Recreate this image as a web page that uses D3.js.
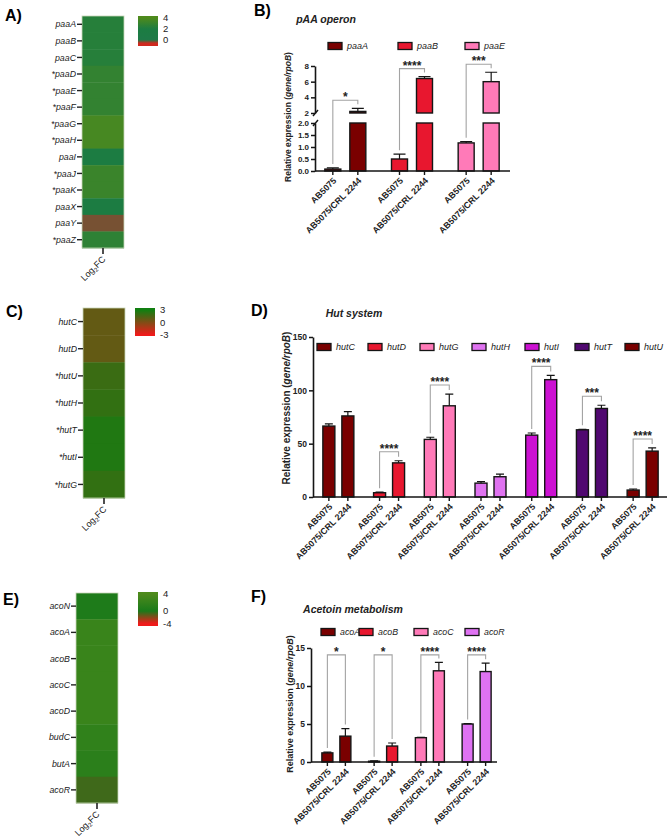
<!DOCTYPE html>
<html>
<head>
<meta charset="utf-8">
<script src="https://cdn.jsdelivr.net/npm/d3@7"></script>
<style>
  body { margin: 0; background: #fff; }
  svg { font-family: "Liberation Sans", Arial, sans-serif; }
</style>
</head>
<body>
<svg id="fig" width="669" height="840"></svg>
<script>
// heatmap rows (log2 fold change)
const paaRows = ["paaA", "paaB", "paaC", "*paaD", "*paaE", "*paaF", "*paaG", "*paaH", "paaI", "*paaJ", "*paaK", "paaX", "paaY", "*paaZ"];
const paaFC = [2.4, 2.4, 2.4, 2.9, 2.9, 2.9, 3.7, 3.7, 2.0, 3.2, 3.2, 1.9, -0.3, 2.7];
const hutRows = ["hutC", "hutD", "*hutU", "*hutH", "*hutT", "*hutI", "*hutG"];
const hutFC = [0.8, 0.8, 1.9, 2.1, 2.6, 2.6, 2.1];
const acoRows = ["acoN", "acoA", "acoB", "acoC", "acoD", "budC", "butA", "acoR"];
const acoFC = [0.3, 2.4, 2.4, 2.4, 2.4, 1.7, 1.3, -0.7];

// qPCR bars: [AB5075, AB5075/CRL 2244]
const strains = ["AB5075", "AB5075/CRL 2244"];
const paaGenes = ["paaA", "paaB", "paaE"];
const paaMean = [[0.08, 2.2], [0.5, 6.4], [1.17, 6.0]];
const paaSD = [[0.05, 0.4], [0.2, 0.25], [0.05, 1.2]];
const paaSig = ["*", "****", "***"];

const hutGenes = ["hutC", "hutD", "hutG", "hutH", "hutI", "hutT", "hutU"];
const hutMean = [[66.5, 76], [4, 32], [54, 85.5], [13, 19], [58, 110], [63, 83], [6.5, 43]];
const hutSD = [[2, 4], [0.5, 2], [2, 11], [1.5, 2.5], [2, 4], [0.5, 3], [1, 3]];
const hutSig = ["", "****", "****", "", "****", "***", "****"];

const acoGenes = ["acoA", "acoB", "acoC", "acoR"];
const acoMean = [[1.2, 3.4], [0.1, 2.1], [3.2, 12.0], [5.0, 11.9]];
const acoSD = [[0.1, 1.0], [0.05, 0.4], [0.05, 1.1], [0.05, 1.1]];
const acoSig = ["*", "*", "****", "****"];

// farben pro gen
const geneColor = {
  paaA: "#7a0000", paaB: "#e8172f", paaE: "#ff7ab8",
  hutC: "#7a0000", hutD: "#e8172f", hutG: "#ff7ab8", hutH: "#df72f0",
  hutI: "#cc12d2", hutT: "#500870", hutU: "#7a0000",
  acoA: "#7a0000", acoB: "#e8172f", acoC: "#ff7ab8", acoR: "#df72f2"
};

const svg = d3.select("#fig");

// Panel-Buchstaben
const letters = [["A)", 5, 21], ["B)", 254, 16], ["C)", 6, 317], ["D)", 251, 316], ["E)", 3, 605], ["F)", 251, 602]];
svg.selectAll("text.letter").data(letters).join("text")
  .attr("class", "letter")
  .attr("x", d => d[1]).attr("y", d => d[2])
  .attr("font-size", 16).attr("font-weight", "bold")
  .text(d => d[0]);

function heatmap(o) {
  const g = svg.append("g");
  const yb = d3.scaleBand().domain(o.rows).range([o.y, o.y + o.h]);
  g.selectAll("rect.cell").data(o.rows).join("rect")
    .attr("x", o.x).attr("y", d => yb(d))
    .attr("width", o.w).attr("height", yb.bandwidth() + 0.4)
    .attr("fill", (d, i) => o.color(o.vals[i]));
  g.append("rect").attr("x", o.x).attr("y", o.y).attr("width", o.w).attr("height", o.h)
    .attr("fill", "none").attr("stroke", "#c9d6b8").attr("stroke-width", 0.8);

  const mid = d => yb(d) + yb.bandwidth() / 2;
  g.selectAll("line.tk").data(o.rows).join("line")
    .attr("x1", o.x - 5).attr("x2", o.x).attr("y1", mid).attr("y2", mid)
    .attr("stroke", "#222").attr("stroke-width", 1.4);
  g.selectAll("text.lab").data(o.rows).join("text")
    .attr("x", o.x - 6).attr("y", mid).attr("dy", "0.35em")
    .attr("text-anchor", "end").attr("font-style", "italic").attr("font-size", 8.8)
    .attr("fill", "#222").text(d => d);

  // Log2FC unten
  const cx = o.x + o.w / 2;
  g.append("line").attr("x1", cx).attr("x2", cx).attr("y1", o.y + o.h).attr("y2", o.y + o.h + 6)
    .attr("stroke", "#222").attr("stroke-width", 1.6);
  const t = g.append("text")
    .attr("transform", `translate(${cx + 3},${o.y + o.h + 12}) rotate(-45)`)
    .attr("text-anchor", "end").attr("font-size", 9).attr("fill", "#222");
  t.append("tspan").text("Log");
  t.append("tspan").attr("font-size", 6).attr("dy", 2).text("2");
  t.append("tspan").attr("dy", -2).text("FC");

  // Legende mit Farbverlauf
  const L = o.legend;
  const ly = d3.scaleLinear().domain(L.domain).range(L.range);
  const y0 = L.range[0], y1 = L.range[L.range.length - 1];
  const grad = svg.append("defs").append("linearGradient")
    .attr("id", o.id).attr("x1", 0).attr("y1", 0).attr("x2", 0).attr("y2", 1);
  d3.range(0, 1.0001, 0.04).forEach(f => {
    grad.append("stop").attr("offset", f).attr("stop-color", o.color(ly.invert(y0 + f * (y1 - y0))));
  });
  g.append("rect").attr("x", L.x).attr("y", y0).attr("width", 20).attr("height", y1 - y0)
    .attr("fill", `url(#${o.id})`);
  g.selectAll("text.leg").data(L.ticks).join("text")
    .attr("x", L.x + 25).attr("y", d => ly(d)).attr("dy", "0.35em")
    .attr("font-size", 9.5).attr("fill", "#222").text(d => d);
}

heatmap({
  id: "gA", rows: paaRows, vals: paaFC, x: 82, y: 16, w: 42, h: 232,
  color: d3.scaleLinear().domain([-0.6, 0, 2, 4]).range(["#d0281e", "#1e7a48", "#1c7c42", "#4e8a1c"]).clamp(true),
  legend: { x: 138, domain: [4.36, -1.1], range: [16, 46], ticks: [4, 2, 0] }
});
heatmap({
  id: "gC", rows: hutRows, vals: hutFC, x: 83, y: 308, w: 42, h: 190,
  color: d3.scaleLinear().domain([-3, 3]).range(["#f01a1a", "#117f11"]).clamp(true),
  legend: { x: 135, domain: [3.5, -3.3], range: [308, 336], ticks: [3, 0, -3] }
});
heatmap({
  id: "gE", rows: acoRows, vals: acoFC, x: 76, y: 593, w: 42, h: 210,
  color: d3.scaleLinear().domain([-4, 0, 4]).range(["#f01a1a", "#1a7a1a", "#4e8a1c"]).clamp(true),
  legend: { x: 138, domain: [4.5, 0, -4.8], range: [592, 611, 626], ticks: [4, 0, -4] }
});

function barPanel(o) {
  const g = svg.append("g");
  const x = d3.scaleBand().domain(o.genes).range(o.xRange);
  const xi = d3.scalePoint().domain(strains).range([-o.inner, o.inner]);
  const cx = (gene, s) => x(gene) + x.bandwidth() / 2 + xi(s);
  const segs = o.segs;
  const y = v => {
    for (const s of segs) if (v <= s.hi) return s.scale(Math.max(v, s.lo));
    return segs[segs.length - 1].scale(v);
  };
  const base = segs[0].scale(0);

  const bars = [];
  o.genes.forEach((gene, i) => strains.forEach((s, j) =>
    bars.push({ gene, s, m: o.mean[i][j], sd: o.sd[i][j] })));

  // Balken, ggf. in Stücke für die Achsenunterbrechung
  const pieces = [];
  bars.forEach(b => segs.forEach(s => {
    if (b.m > s.lo) pieces.push({ b, y0: s.scale(s.lo), y1: s.scale(Math.min(b.m, s.hi)) });
  }));
  g.selectAll("rect.bar").data(pieces).join("rect")
    .attr("x", d => cx(d.b.gene, d.b.s) - o.barW / 2).attr("y", d => d.y1)
    .attr("width", o.barW).attr("height", d => Math.max(0.5, d.y0 - d.y1))
    .attr("fill", d => geneColor[d.b.gene]).attr("stroke", "#151515").attr("stroke-width", 1.4);

  // Fehlerbalken (nur nach oben)
  g.selectAll("path.err").data(bars).join("path")
    .attr("d", d => {
      const X = cx(d.gene, d.s), ya = y(d.m), yb = y(d.m + d.sd), c = o.cap / 2;
      return `M${X},${ya}V${yb}M${X - c},${yb}H${X + c}`;
    })
    .attr("fill", "none").attr("stroke", "#151515").attr("stroke-width", 1.2);

  // y-Achse(n)
  segs.forEach(s => {
    const a = g.append("g").attr("transform", `translate(${o.axisX},0)`)
      .call(d3.axisLeft(s.scale).tickValues(s.ticks).tickFormat(s.fmt).tickSize(4).tickSizeOuter(0));
    a.attr("font-family", null).attr("font-size", null);
    a.select(".domain").attr("stroke", "#151515").attr("stroke-width", 1.6);
    a.selectAll(".tick line").attr("stroke", "#151515").attr("stroke-width", 1.5);
    a.selectAll(".tick text").attr("font-size", o.tickFont).attr("font-weight", "bold").attr("fill", "#222").attr("x", -6);
  });
  if (o.breaks) {
    g.selectAll("path.brk").data(o.breaks).join("path")
      .attr("d", v => `M${o.axisX - 2},${v + 3}L${o.axisX + 3},${v - 3}`)
      .attr("stroke", "#151515").attr("stroke-width", 1.4);
  }

  // x-Achse
  g.append("line").attr("x1", o.axisX).attr("x2", o.xEnd).attr("y1", base).attr("y2", base)
    .attr("stroke", "#151515").attr("stroke-width", 1.6);
  g.selectAll("line.xt").data(bars).join("line")
    .attr("x1", d => cx(d.gene, d.s)).attr("x2", d => cx(d.gene, d.s))
    .attr("y1", base).attr("y2", base + 4)
    .attr("stroke", "#151515").attr("stroke-width", 1.4);
  g.selectAll("text.xl").data(bars).join("text")
    .attr("transform", d => `translate(${cx(d.gene, d.s) + 2},${base + 8}) rotate(-45)`)
    .attr("text-anchor", "end").attr("dy", "0.35em")
    .attr("font-size", 8.8).attr("font-weight", "bold").attr("fill", "#222")
    .text(d => d.s);

  // Signifikanz-Klammern
  o.genes.forEach((gene, i) => {
    if (!o.sig[i]) return;
    const xL = cx(gene, strains[0]), xR = cx(gene, strains[1]);
    const tL = y(o.mean[i][0] + o.sd[i][0]), tR = y(o.mean[i][1] + o.sd[i][1]);
    const yt = o.bracketVal != null ? y(o.bracketVal) : Math.min(tL, tR) - o.bracketGap;
    g.append("path")
      .attr("d", `M${xL},${tL - 4}V${yt}H${xR}V${tR - 4}`)
      .attr("fill", "none").attr("stroke", "#a3a3a3").attr("stroke-width", 1.1);
    g.append("text").attr("x", (xL + xR) / 2).attr("y", yt + 1)
      .attr("text-anchor", "middle").attr("font-size", 12).attr("font-weight", "bold")
      .attr("fill", "#222").text(o.sig[i]);
  });

  // Legende: erst Kästchen, dann Text darüber
  g.selectAll("rect.sw").data(o.genes).join("rect")
    .attr("x", (d, i) => o.legendX[i]).attr("y", o.legendY - 3.5).attr("width", 14).attr("height", 7)
    .attr("fill", d => geneColor[d]).attr("stroke", "#151515").attr("stroke-width", 1.3);
  g.selectAll("text.lg").data(o.genes).join("text")
    .attr("x", (d, i) => o.legendX[i] + 19).attr("y", o.legendY).attr("dy", "0.35em")
    .attr("font-size", o.legendFont).attr("font-style", "italic").attr("fill", "#222").text(d => d);

  // Titel
  g.append("text").attr("x", o.title[1]).attr("y", o.title[2]).attr("text-anchor", "middle")
    .attr("font-size", 10.5).attr("font-weight", "bold").attr("font-style", "italic")
    .attr("fill", "#222").text(o.title[0]);

  // y-Beschriftung
  const yl = g.append("text")
    .attr("transform", `translate(${o.ylab[0]},${o.ylab[1]}) rotate(-90)`)
    .attr("text-anchor", "middle").attr("dy", "0.35em")
    .attr("font-size", o.ylab[2]).attr("font-weight", "bold").attr("fill", "#222");
  yl.append("tspan").text("Relative expression (");
  yl.append("tspan").attr("font-style", "italic").text("gene/rpoB");
  yl.append("tspan").text(")");
}

const fmt1 = d3.format(".1f");
barPanel({
  genes: paaGenes, mean: paaMean, sd: paaSD, sig: paaSig,
  xRange: [312, 512], inner: 12.5, barW: 16, cap: 12,
  axisX: 315, xEnd: 510, tickFont: 8,
  segs: [
    { scale: d3.scaleLinear().domain([0, 2]).range([171, 123]), lo: 0, hi: 2, ticks: [0, 0.5, 1, 1.5, 2], fmt: fmt1 },
    { scale: d3.scaleLinear().domain([2, 8]).range([113, 66]), lo: 2, hi: 8, ticks: [2, 4, 6, 8], fmt: d3.format("d") }
  ],
  breaks: [113, 123],
  bracketGap: 8,
  legendX: [328, 398, 465], legendY: 46, legendFont: 9,
  title: ["pAA operon", 326, 23],
  ylab: [288, 117, 8.5]
});
barPanel({
  genes: hutGenes, mean: hutMean, sd: hutSD, sig: hutSig,
  xRange: [313, 668], inner: 9.5, barW: 12, cap: 8,
  axisX: 313, xEnd: 667, tickFont: 8.5,
  segs: [
    { scale: d3.scaleLinear().domain([0, 150]).range([497, 337]), lo: 0, hi: 150, ticks: [0, 50, 100, 150], fmt: d3.format("d") }
  ],
  bracketGap: 9,
  legendX: [317, 368, 420, 472, 525, 575, 625], legendY: 347, legendFont: 9,
  title: ["Hut system", 354, 317],
  ylab: [286, 408, 10]
});
barPanel({
  genes: acoGenes, mean: acoMean, sd: acoSD, sig: acoSig,
  xRange: [313, 500], inner: 9, barW: 11, cap: 8,
  axisX: 311, xEnd: 497, tickFont: 8.5,
  segs: [
    { scale: d3.scaleLinear().domain([0, 15]).range([762, 648]), lo: 0, hi: 15, ticks: [0, 5, 10, 15], fmt: d3.format("d") }
  ],
  bracketVal: 14.1,
  legendX: [321, 359, 414, 465], legendY: 632, legendFont: 8.8,
  title: ["Acetoin metabolism", 353, 613],
  ylab: [290, 704, 9]
});
</script>
</body>
</html>
